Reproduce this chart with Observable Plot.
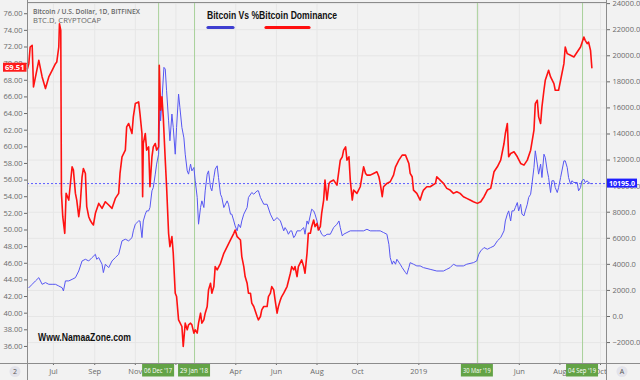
<!DOCTYPE html>
<html><head><meta charset="utf-8">
<script src="https://cdn.jsdelivr.net/npm/d3@7"></script>
<script src="https://cdn.jsdelivr.net/npm/@observablehq/plot@0.6"></script>
<style>
body{margin:0;background:#f2f2f2;}
#chart{width:640px;height:380px;}
</style></head><body><div id="chart"></div>
<script>
// ---- Bitcoin dominance (BTC.D, %) ----
const domDates = ["2017-05-23","2017-05-25","2017-05-27","2017-05-30","2017-06-01","2017-06-04","2017-06-09","2017-06-14","2017-06-19","2017-06-24","2017-06-29","2017-07-04","2017-07-06","2017-07-09","2017-07-10","2017-07-12","2017-07-13","2017-07-15","2017-07-18","2017-07-20","2017-07-24","2017-07-29","2017-07-31","2017-08-03","2017-08-05","2017-08-08","2017-08-10","2017-08-13","2017-08-15","2017-08-18","2017-08-20","2017-08-23","2017-08-25","2017-08-28","2017-08-30","2017-09-02","2017-09-07","2017-09-12","2017-09-17","2017-09-22","2017-09-27","2017-10-02","2017-10-07","2017-10-09","2017-10-12","2017-10-17","2017-10-19","2017-10-22","2017-10-27","2017-10-29","2017-11-01","2017-11-06","2017-11-08","2017-11-11","2017-11-12","2017-11-13","2017-11-16","2017-11-18","2017-11-21","2017-11-23","2017-11-26","2017-11-28","2017-12-01","2017-12-03","2017-12-06","2017-12-07","2017-12-09","2017-12-11","2017-12-13","2017-12-16","2017-12-18","2017-12-21","2017-12-23","2017-12-26","2017-12-28","2017-12-31","2018-01-02","2018-01-05","2018-01-10","2018-01-12","2018-01-15","2018-01-18","2018-01-20","2018-01-23","2018-01-25","2018-01-28","2018-01-30","2018-02-02","2018-02-04","2018-02-07","2018-02-09","2018-02-12","2018-02-14","2018-02-17","2018-02-19","2018-02-22","2018-02-24","2018-02-27","2018-03-01","2018-03-04","2018-03-09","2018-03-14","2018-03-19","2018-03-24","2018-03-29","2018-03-31","2018-04-03","2018-04-08","2018-04-10","2018-04-13","2018-04-15","2018-04-18","2018-04-20","2018-04-23","2018-04-25","2018-04-28","2018-05-03","2018-05-05","2018-05-08","2018-05-10","2018-05-13","2018-05-18","2018-05-20","2018-05-23","2018-05-25","2018-05-28","2018-05-30","2018-06-02","2018-06-04","2018-06-07","2018-06-09","2018-06-12","2018-06-17","2018-06-22","2018-06-24","2018-06-27","2018-06-29","2018-07-02","2018-07-04","2018-07-09","2018-07-12","2018-07-14","2018-07-17","2018-07-19","2018-07-22","2018-07-24","2018-07-27","2018-07-29","2018-08-01","2018-08-03","2018-08-06","2018-08-08","2018-08-11","2018-08-13","2018-08-16","2018-08-19","2018-08-21","2018-08-26","2018-08-31","2018-09-03","2018-09-05","2018-09-08","2018-09-10","2018-09-13","2018-09-15","2018-09-18","2018-09-20","2018-09-23","2018-09-25","2018-09-30","2018-10-05","2018-10-10","2018-10-13","2018-10-15","2018-10-20","2018-10-25","2018-10-30","2018-11-02","2018-11-04","2018-11-07","2018-11-09","2018-11-14","2018-11-19","2018-11-24","2018-11-27","2018-12-02","2018-12-07","2018-12-12","2018-12-17","2018-12-19","2018-12-22","2018-12-24","2018-12-29","2019-01-03","2019-01-06","2019-01-08","2019-01-13","2019-01-18","2019-01-26","2019-01-28","2019-02-02","2019-02-07","2019-02-12","2019-02-17","2019-02-22","2019-02-27","2019-03-04","2019-03-09","2019-03-14","2019-03-19","2019-03-24","2019-03-30","2019-04-04","2019-04-09","2019-04-14","2019-04-19","2019-04-24","2019-04-29","2019-05-04","2019-05-09","2019-05-11","2019-05-14","2019-05-16","2019-05-19","2019-05-24","2019-05-29","2019-06-03","2019-06-08","2019-06-13","2019-06-18","2019-06-23","2019-06-25","2019-06-28","2019-06-30","2019-07-03","2019-07-05","2019-07-08","2019-07-10","2019-07-15","2019-07-18","2019-07-23","2019-07-25","2019-07-30","2019-08-02","2019-08-07","2019-08-09","2019-08-12","2019-08-17","2019-08-22","2019-08-27","2019-09-01","2019-09-06","2019-09-08","2019-09-11","2019-09-13","2019-09-16","2019-09-18"];
const domValues = [69.4,70.0,72.0,72.2,67.2,68.4,70.4,68.4,67.0,68.4,69.2,70.0,70.2,72.0,74.8,74.0,54.4,51.6,49.6,54.4,53.6,57.6,57.2,54.4,53.6,51.6,52.8,56.4,57.4,56.8,52.8,51.6,51.2,50.8,50.6,52.0,53.2,52.6,53.4,53.0,52.6,53.8,54.4,56.8,58.8,59.6,62.4,62.8,61.6,63.6,65.2,65.4,64.0,61.6,54.0,60.4,61.6,59.6,60.0,55.2,58.8,60.0,60.4,59.6,60.0,69.8,64.4,66.0,63.6,58.4,55.2,49.6,48.0,49.2,47.2,42.4,42.0,39.2,38.4,36.0,38.8,38.0,38.6,38.8,38.6,37.6,38.0,37.6,38.8,40.0,38.8,39.2,40.0,40.8,42.8,43.6,42.4,43.2,45.6,45.2,46.0,47.2,48.0,48.8,49.6,50.0,49.2,48.8,46.8,45.6,44.4,43.6,42.4,42.4,41.2,40.8,39.6,39.2,39.6,40.4,40.8,40.8,42.0,42.4,43.2,42.8,41.6,40.0,40.8,41.6,42.0,42.4,43.2,44.8,45.6,45.2,45.6,44.4,45.6,46.4,45.6,44.8,47.2,49.6,49.6,50.4,51.2,50.4,50.8,50.0,50.4,52.0,53.6,56.0,53.6,55.6,55.8,56.0,55.4,57.2,58.4,58.8,59.6,60.0,58.4,58.8,56.0,53.6,54.8,54.4,55.2,57.6,56.8,56.6,56.6,56.8,57.0,56.4,55.6,54.0,55.2,55.6,55.8,56.6,57.6,58.4,59.0,59.0,58.0,56.8,56.4,54.8,54.4,53.6,54.4,54.8,55.2,55.2,55.6,56.4,56.0,55.6,55.0,54.8,54.4,54.6,54.4,54.0,53.8,53.6,53.4,53.2,53.4,54.0,54.8,55.0,57.0,57.6,58.4,60.4,61.6,62.8,58.8,59.2,59.4,58.8,58.0,57.8,58.4,59.6,62.0,65.2,65.6,63.6,62.8,64.8,66.8,68.0,69.2,68.4,67.6,66.8,66.8,68.0,70.0,72.0,71.2,71.0,70.8,71.4,72.0,73.2,72.8,72.4,72.6,71.6,69.51];

// ---- Bitcoin / U.S. Dollar (BITFINEX, daily close) ----
const btcDates = ["2017-05-25","2017-05-30","2017-06-04","2017-06-09","2017-06-14","2017-06-19","2017-06-24","2017-06-29","2017-07-04","2017-07-09","2017-07-14","2017-07-16","2017-07-19","2017-07-24","2017-07-29","2017-08-03","2017-08-08","2017-08-13","2017-08-18","2017-08-23","2017-08-28","2017-09-02","2017-09-04","2017-09-07","2017-09-12","2017-09-14","2017-09-17","2017-09-22","2017-09-27","2017-10-02","2017-10-07","2017-10-12","2017-10-17","2017-10-22","2017-10-27","2017-10-29","2017-11-01","2017-11-06","2017-11-08","2017-11-11","2017-11-13","2017-11-16","2017-11-18","2017-11-21","2017-11-23","2017-11-26","2017-11-28","2017-12-01","2017-12-03","2017-12-06","2017-12-08","2017-12-09","2017-12-11","2017-12-14","2017-12-16","2017-12-18","2017-12-21","2017-12-23","2017-12-26","2017-12-28","2017-12-31","2018-01-02","2018-01-05","2018-01-07","2018-01-10","2018-01-13","2018-01-15","2018-01-18","2018-01-20","2018-01-23","2018-01-25","2018-01-28","2018-01-30","2018-02-02","2018-02-04","2018-02-07","2018-02-09","2018-02-12","2018-02-14","2018-02-17","2018-02-19","2018-02-22","2018-02-24","2018-02-27","2018-03-01","2018-03-04","2018-03-06","2018-03-09","2018-03-11","2018-03-14","2018-03-19","2018-03-21","2018-03-24","2018-03-26","2018-03-29","2018-03-31","2018-04-03","2018-04-05","2018-04-08","2018-04-10","2018-04-13","2018-04-18","2018-04-20","2018-04-25","2018-04-28","2018-05-03","2018-05-05","2018-05-08","2018-05-13","2018-05-18","2018-05-23","2018-05-28","2018-06-02","2018-06-07","2018-06-12","2018-06-14","2018-06-17","2018-06-19","2018-06-22","2018-06-24","2018-06-27","2018-06-29","2018-07-02","2018-07-07","2018-07-12","2018-07-14","2018-07-17","2018-07-19","2018-07-24","2018-07-27","2018-07-29","2018-08-01","2018-08-03","2018-08-06","2018-08-08","2018-08-11","2018-08-13","2018-08-16","2018-08-21","2018-08-26","2018-08-31","2018-09-03","2018-09-05","2018-09-08","2018-09-10","2018-09-15","2018-09-20","2018-09-30","2018-10-10","2018-10-15","2018-10-20","2018-10-30","2018-11-04","2018-11-09","2018-11-14","2018-11-17","2018-11-19","2018-11-22","2018-11-24","2018-11-27","2018-11-29","2018-12-04","2018-12-07","2018-12-12","2018-12-14","2018-12-17","2018-12-19","2018-12-24","2018-12-29","2019-01-03","2019-01-08","2019-01-18","2019-01-28","2019-02-07","2019-02-12","2019-02-17","2019-02-22","2019-02-27","2019-03-09","2019-03-14","2019-03-24","2019-03-29","2019-04-01","2019-04-04","2019-04-09","2019-04-14","2019-04-19","2019-04-24","2019-04-29","2019-05-04","2019-05-09","2019-05-11","2019-05-14","2019-05-16","2019-05-19","2019-05-21","2019-05-24","2019-05-26","2019-05-29","2019-05-31","2019-06-03","2019-06-05","2019-06-08","2019-06-10","2019-06-13","2019-06-15","2019-06-18","2019-06-20","2019-06-23","2019-06-25","2019-06-28","2019-06-30","2019-07-03","2019-07-05","2019-07-08","2019-07-10","2019-07-13","2019-07-15","2019-07-18","2019-07-20","2019-07-23","2019-07-25","2019-07-28","2019-07-30","2019-08-02","2019-08-07","2019-08-09","2019-08-12","2019-08-14","2019-08-17","2019-08-19","2019-08-22","2019-08-27","2019-08-29","2019-09-01","2019-09-03","2019-09-06","2019-09-08","2019-09-11","2019-09-13","2019-09-16","2019-09-18"];
const btcValues = [2210,2470,2730,2980,2470,2600,2470,2470,2470,2340,2210,1960,2730,2730,2850,2980,3490,4260,4390,4260,4520,4770,4390,4520,4010,3370,4010,3750,4260,4520,4770,5800,5930,5800,6050,6570,7080,7330,7330,6050,7330,7850,8100,8100,8360,9640,9890,10920,11690,12450,16040,15010,16550,19110,18980,17320,15010,13480,15530,14500,12450,14500,17060,16040,14500,13700,12450,11170,10920,11690,11170,11430,10410,9130,7080,8360,8870,8360,9640,10920,11170,9890,9640,10660,11300,11560,10660,9380,9130,8360,8870,8610,7850,7850,7330,6950,6570,7080,6820,7330,7850,8360,9130,9510,9380,9640,9640,9130,8610,8610,7850,7330,7590,7330,6570,6820,6570,6310,6570,6570,6050,6180,6570,6570,6820,6310,7330,7080,8230,8100,7850,7330,6820,6570,6310,6180,6180,6310,6310,6820,7080,7330,6820,6180,6310,6440,6570,6570,6570,6690,6570,6570,6570,6440,6310,5540,4520,4010,4260,4010,4390,4010,3750,3370,3240,3750,4130,4010,3880,3880,3750,3620,3490,3490,3620,3750,4010,3880,3880,4010,4130,4260,4770,5030,5290,5160,5290,5410,5800,6050,6570,7330,7850,8100,7330,8100,8100,8360,8740,8100,8610,7850,7720,8100,8610,9130,9380,10150,11430,12710,11690,10920,11690,10660,12450,12200,11170,10660,9510,10410,10410,9890,9510,9890,10660,11940,11940,11430,10660,10150,10410,10280,10280,9640,9890,10410,10530,10280,10410,10280,10195,10195];

// ---- axes / annotations ----
const leftTicks = [36,38,40,42,44,46,48,50,52,54,56,58,60,62,64,66,68,70,72,74,76];
const rightTicks = [-2000,0,2000,4000,6000,8000,10000,12000,14000,16000,18000,20000,22000,24000];
const xTickDates = ["2017-07-01","2017-09-01","2017-11-01","2018-01-01","2018-04-01","2018-06-01","2018-08-01","2018-10-01","2019-01-01","2019-04-01","2019-06-01","2019-08-01","2019-10-01"];
// "2018" and the second "Apr" sit under the green date flags, so they are not visible
const xTickLabels = ["Jul","Sep","Nov","","Apr","Jun","Aug","Oct","2019","","Jun","Aug","Oct"];
const markerDates = ["2017-12-06","2018-01-29","2019-03-30","2019-09-04"];
const markerLabels = ["06 Dec '17","29 Jan '18","30 Mar '19","04 Sep '19"];
const titleText = "Bitcoin Vs %Bitcoin Dominance";
const seriesNames = ["Bitcoin / U.S. Dollar, 1D, BITFINEX","BTC.D, CRYPTOCAP"];
const watermark = "Www.NamaaZone.com";

const parse = d3.utcParse("%Y-%m-%d");
const domData = domDates.map((d,i)=>({date:parse(d), value:domValues[i]}));
const btcData = btcDates.map((d,i)=>({date:parse(d), value:btcValues[i]}));
const lastDom = domValues[domValues.length-1];
const lastPrice = btcValues[btcValues.length-1];

const yDomain = [33.95, 77.35];
const priceDomain = [-3605, 24086];
const toDom = d3.scaleLinear(priceDomain, yDomain);
const xDomain = [parse("2017-05-23"), parse("2019-10-10")];
const fmtPrice = p => (p < 0 ? "\u2212" : "") + Math.abs(p).toFixed(1);
const xLabelMap = new Map(xTickDates.map((d,i)=>[+parse(d), xTickLabels[i]]));

const RED = "#ff1212", BLUE = "#5757f2", GREEN_LINE = "#a9d19a", GREEN_BOX = "#63a346";
const FONT = "'Open Sans', 'DejaVu Sans', sans-serif";

const chart = Plot.plot({
  width: 640, height: 380,
  marginLeft: 27, marginRight: 34, marginTop: 2, marginBottom: 17,
  style: {background: "#f2f2f2", fontFamily: FONT, fontSize: "7.5px", color: "#6a6a6a"},
  x: {type: "utc", domain: xDomain},
  y: {domain: yDomain},
  marks: [
    Plot.gridY(rightTicks.map(toDom), {stroke: "#e6e6e6", strokeOpacity: 1}),
    Plot.gridX(xTickDates.map(parse), {stroke: "#e6e6e6", strokeOpacity: 1}),
    Plot.ruleX(markerDates.map(parse), {stroke: GREEN_LINE, strokeWidth: 1}),
    Plot.ruleY([toDom(lastPrice)], {stroke: "#5b5bff", strokeDasharray: "2,2", strokeWidth: 1}),
    Plot.line(btcData, {x: "date", y: d => toDom(d.value), stroke: BLUE, strokeWidth: 1}),
    Plot.line(domData, {x: "date", y: "value", stroke: RED, strokeWidth: 1.6}),
    Plot.axisY(leftTicks, {anchor: "left", label: null, tickFormat: d => d.toFixed(2), tickSize: 3, tickPadding: 2}),
    Plot.axisY(rightTicks.map(toDom), {anchor: "right", label: null, tickFormat: v => fmtPrice(Math.round(toDom.invert(v))), tickSize: 3, tickPadding: 3}),
    Plot.axisX(xTickDates.map(parse), {anchor: "bottom", label: null, tickFormat: d => xLabelMap.get(+d), tickSize: 2, tickPadding: 3}),
    Plot.frame({stroke: "#8c8c8c"})
  ]
});
document.getElementById("chart").append(chart);

const svg = d3.select(chart);
const xs = chart.scale("x"), ys = chart.scale("y");

// a coloured flag with white text, positioned through the plot's own scales
function flag(cx, cy, txt, fill, o) {
  const bx = o.left != null ? o.left : cx - o.width / 2;
  const g = svg.append("g");
  g.append("rect").attr("fill", fill).attr("x", bx).attr("width", o.width)
    .attr("y", cy - o.height / 2).attr("height", o.height);
  g.append("text").attr("x", bx + o.width / 2).attr("y", cy).attr("dy", "0.36em")
    .attr("text-anchor", "middle").attr("fill", "white").attr("font-family", FONT)
    .attr("font-size", o.size).attr("font-weight", o.weight || "normal")
    .attr("textLength", o.width - 4).attr("lengthAdjust", "spacingAndGlyphs").text(txt);
}
markerDates.forEach((d, i) => flag(xs.apply(parse(d)), 370, markerLabels[i], GREEN_BOX, {width: 32, height: 13, size: 7}));
flag(0, ys.apply(lastDom), lastDom.toFixed(2), "#ff1a1a", {left: 3, width: 23.5, height: 9, size: 7, weight: "bold"});
flag(0, ys.apply(toDom(lastPrice)), fmtPrice(lastPrice), "#1f1fff", {left: 607, width: 30, height: 9, size: 7, weight: "bold"});

// extra panel separators (TradingView layout)
svg.append("line").attr("x1", 0).attr("x2", 640).attr("y1", 363.5).attr("y2", 363.5).attr("stroke", "#8c8c8c");
svg.append("line").attr("x1", 27.5).attr("x2", 27.5).attr("y1", 0).attr("y2", 380).attr("stroke", "#8c8c8c");
svg.append("line").attr("x1", 606.5).attr("x2", 606.5).attr("y1", 0).attr("y2", 380).attr("stroke", "#8c8c8c");

function addText(x, y, txt, opts) {
  const t = svg.append("text").attr("x", x).attr("y", y).attr("text-anchor", "start")
    .attr("font-family", opts.family).attr("font-size", opts.size)
    .attr("font-weight", opts.weight).attr("fill", opts.fill).text(txt);
  if (opts.len) t.attr("textLength", opts.len).attr("lengthAdjust", "spacingAndGlyphs");
  return t;
}

// title and legend
addText(207, 19, titleText, {family: "'Liberation Sans', Arial, sans-serif", size: 10, weight: "bold", fill: "#111", len: 130});
svg.append("line").attr("x1", 208).attr("x2", 233).attr("y1", 27.5).attr("y2", 27.5)
  .attr("stroke", "#3e3ed0").attr("stroke-width", 3.2).attr("stroke-linecap", "round");
svg.append("line").attr("x1", 266).attr("x2", 309).attr("y1", 27.5).attr("y2", 27.5)
  .attr("stroke", "#ff0f0f").attr("stroke-width", 3.2).attr("stroke-linecap", "round");

// series captions
seriesNames.forEach((s, i) => addText(33, 13.5 + i * 9, s,
  {family: FONT, size: 7.5, weight: i === 0 ? 600 : 400, fill: "#666", len: i === 0 ? 107 : 68}));

// watermark
addText(38, 341, watermark, {family: "'Liberation Sans', Arial, sans-serif", size: 10, weight: "bold", fill: "#111", len: 93});

// small corner buttons
[[15, "2"], [622, "A"]].forEach(([cx, t]) => {
  svg.append("circle").attr("cx", cx).attr("cy", 371.5).attr("r", 5.5).attr("fill", "#e3e3ea");
  svg.append("text").attr("x", cx).attr("y", 374).attr("text-anchor", "middle")
    .attr("font-size", 7).attr("font-family", FONT).attr("fill", "#555").text(t);
});
</script></body></html>
